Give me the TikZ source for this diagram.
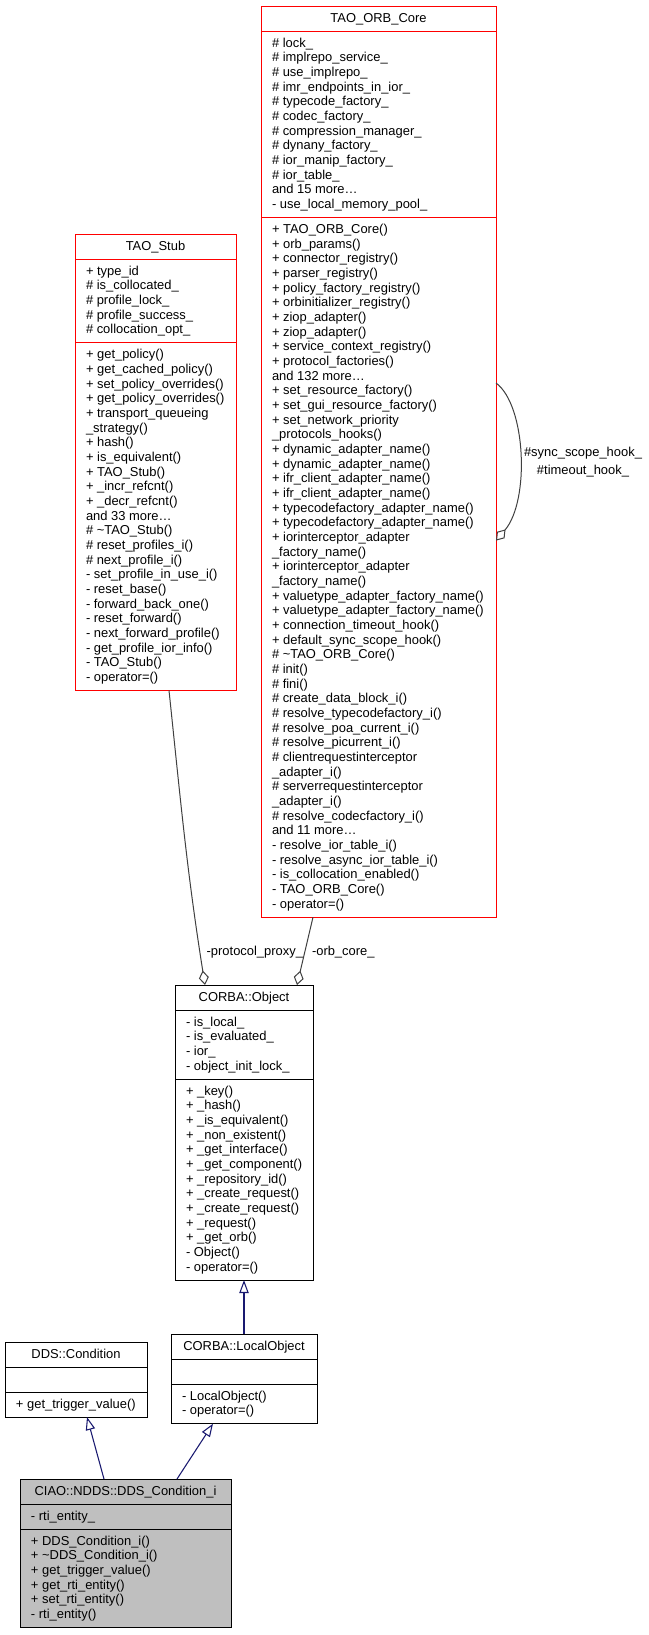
\documentclass[tikz,border=0pt]{standalone}
\usepackage{fontspec}
\setmainfont{Liberation Sans}
\usetikzlibrary{arrows.meta,calc}
\definecolor{edgegrey}{HTML}{404040}
\definecolor{inhblue}{HTML}{191970}
\definecolor{boxred}{HTML}{FF0000}
\definecolor{boxgrey}{HTML}{BFBFBF}
\tikzset{
  classbox/.style={rectangle, inner sep=0pt, outer sep=0pt, line width=0.75pt, anchor=north west},
  sepline/.style={line width=0.75pt},
  txt/.style={inner sep=0pt, outer sep=0pt, font=\fontsize{9.7}{12}\selectfont},
  compo/.style={draw=edgegrey, line width=0.75pt, -{Diamond[open, length=11pt, width=7.5pt]}},
  inherit/.style={draw=inhblue, line width=0.8pt, -{Triangle[open, length=9.75pt, width=7pt]}},
}
\newcommand{\umlbox}[9]{%
  \pgfmathsetmacro{\ulA}{#4+25}%
  \pgfmathsetmacro{\ulB}{\ulA+14.67*max(#5,1)+10.33}%
  \pgfmathsetmacro{\ulC}{\ulB+14.67*max(#6,1)+10.33}%
  \node[classbox, draw=#7, fill=#8, minimum width={(#3-#2)*0.75pt}, minimum height={(\ulC-#4)*0.75pt}] (#1) at (#2,#4) {};%
  \draw[sepline, draw=#7] (#2,\ulA) -- (#3,\ulA) (#2,\ulB) -- (#3,\ulB);%
  \node[txt, anchor=base] (#1-title) at ({(#2+#3)/2},{#4+16.5}) {#9};%
}
\newcommand{\clines}[4]{%
  \foreach \t [count=\i from 0] in {#4} {\node[txt, anchor=base west] (#1\i) at (#2, {#3+16+\i*14.67}) {\t};}%
}
\begin{document}
\begin{tikzpicture}[x=0.75pt, y=-0.75pt]
\useasboundingbox (0,0) rectangle (649,1635);
\fill[white] (0,0) rectangle (649,1635);

% TAO_ORB_Core
\umlbox{orb}{261}{496}{6}{12}{47}{boxred}{white}{TAO\_ORB\_Core}
\clines{orba}{272}{\ulA}{\# lock\_, \# implrepo\_service\_, \# use\_implrepo\_, \# imr\_endpoints\_in\_ior\_, \# typecode\_factory\_, \# codec\_factory\_, \# compression\_manager\_, \# dynany\_factory\_, \# ior\_manip\_factory\_, \# ior\_table\_, and 15 more…, - use\_local\_memory\_pool\_}
\clines{orbm}{272}{\ulB}{+ TAO\_ORB\_Core(), + orb\_params(), + connector\_registry(), + parser\_registry(), + policy\_factory\_registry(), + orbinitializer\_registry(), + ziop\_adapter(), + ziop\_adapter(), + service\_context\_registry(), + protocol\_factories(), and 132 more…, + set\_resource\_factory(), + set\_gui\_resource\_factory(), + set\_network\_priority, \_protocols\_hooks(), + dynamic\_adapter\_name(), + dynamic\_adapter\_name(), + ifr\_client\_adapter\_name(), + ifr\_client\_adapter\_name(), + typecodefactory\_adapter\_name(), + typecodefactory\_adapter\_name(), + iorinterceptor\_adapter, \_factory\_name(), + iorinterceptor\_adapter, \_factory\_name(), + valuetype\_adapter\_factory\_name(), + valuetype\_adapter\_factory\_name(), + connection\_timeout\_hook(), + default\_sync\_scope\_hook(), \# \textasciitilde TAO\_ORB\_Core(), \# init(), \# fini(), \# create\_data\_block\_i(), \# resolve\_typecodefactory\_i(), \# resolve\_poa\_current\_i(), \# resolve\_picurrent\_i(), \# clientrequestinterceptor, \_adapter\_i(), \# serverrequestinterceptor, \_adapter\_i(), \# resolve\_codecfactory\_i(), and 11 more…, - resolve\_ior\_table\_i(), - resolve\_async\_ior\_table\_i(), - is\_collocation\_enabled(), - TAO\_ORB\_Core(), - operator=()}

% TAO_Stub
\umlbox{stub}{75}{236}{234}{5}{23}{boxred}{white}{TAO\_Stub}
\clines{stuba}{86}{\ulA}{+ type\_id, \# is\_collocated\_, \# profile\_lock\_, \# profile\_success\_, \# collocation\_opt\_}
\clines{stubm}{86}{\ulB}{+ get\_policy(), + get\_cached\_policy(), + set\_policy\_overrides(), + get\_policy\_overrides(), + transport\_queueing, \_strategy(), + hash(), + is\_equivalent(), + TAO\_Stub(), + \_incr\_refcnt(), + \_decr\_refcnt(), and 33 more…, \# \textasciitilde TAO\_Stub(), \# reset\_profiles\_i(), \# next\_profile\_i(), - set\_profile\_in\_use\_i(), - reset\_base(), - forward\_back\_one(), - reset\_forward(), - next\_forward\_profile(), - get\_profile\_ior\_info(), - TAO\_Stub(), - operator=()}

% CORBA::Object
\umlbox{obj}{175}{313}{985}{4}{13}{black}{white}{CORBA::Object}
\clines{obja}{186}{\ulA}{- is\_local\_, - is\_evaluated\_, - ior\_, - object\_init\_lock\_}
\clines{objm}{186}{\ulB}{+ \_key(), + \_hash(), + \_is\_equivalent(), + \_non\_existent(), + \_get\_interface(), + \_get\_component(), + \_repository\_id(), + \_create\_request(), + \_create\_request(), + \_request(), + \_get\_orb(), - Object(), - operator=()}

% DDS::Condition
\umlbox{dds}{5}{147}{1342}{0}{1}{black}{white}{DDS::Condition}
\clines{ddsm}{16}{\ulB}{+ get\_trigger\_value()}

% CORBA::LocalObject
\umlbox{local}{171}{317}{1334}{0}{2}{black}{white}{CORBA::LocalObject}
\clines{localm}{182}{\ulB}{- LocalObject(), - operator=()}

% CIAO::NDDS::DDS_Condition_i
\umlbox{ciao}{20}{231}{1479}{1}{6}{black}{boxgrey}{CIAO::NDDS::DDS\_Condition\_i}
\clines{ciaoa}{31}{\ulA}{- rti\_entity\_}
\clines{ciaom}{31}{\ulB}{+ DDS\_Condition\_i(), + \textasciitilde DDS\_Condition\_i(), + get\_trigger\_value(), + get\_rti\_entity(), + set\_rti\_entity(), - rti\_entity()}

% composition connectors
\draw[compo] ($(stub.south)+(13.5,0)$) to[out=-84, in=99] ($(obj.north)+(-39,0)$);
\draw[compo] ($(orb.south)+(-65.5,0)$) -- ($(obj.north)+(53,0)$);
\draw[compo] ($(orb.east)+(0,-78.6)$) .. controls +(30,22) and +(34,-40) .. ($(orb.east)+(0,79)$);

\node[txt, anchor=base east] (lblproxy) at (303,955) {-protocol\_proxy\_};
\node[txt, anchor=base west] (lblorb) at (312,955) {-orb\_core\_};
\node[txt, align=center, font=\fontsize{9.7}{14}\selectfont] (lblloop) at (583,462) {\#sync\_scope\_hook\_\\\#timeout\_hook\_};

% inheritance connectors
\draw[inherit] (local.north) -- (obj.south);
\draw[inherit] ($(ciao.north)+(-21.5,0)$) -- ($(dds.south)+(11,0)$);
\draw[inherit] ($(ciao.north)+(51.5,0)$) -- ($(local.south)+(-31,0)$);
\end{tikzpicture}
\end{document}
